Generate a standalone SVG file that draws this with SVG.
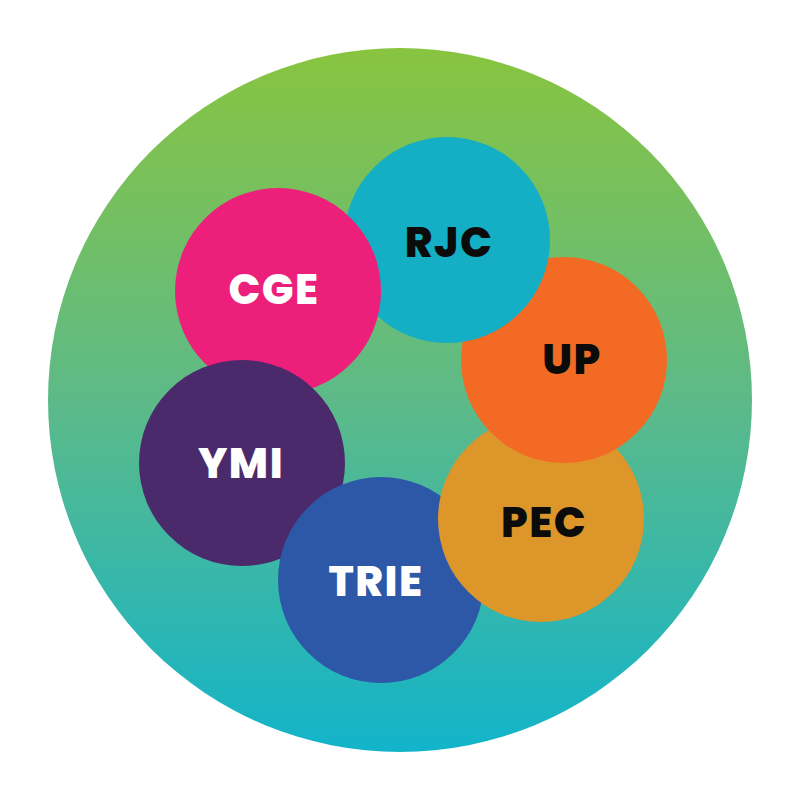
<svg xmlns="http://www.w3.org/2000/svg" width="800" height="800" viewBox="0 0 800 800">
<defs>
<linearGradient id="bg" x1="0" y1="0" x2="0" y2="1">
<stop offset="0" stop-color="#88C43F"/>
<stop offset="0.5" stop-color="#5DBA88"/>
<stop offset="1" stop-color="#12B4CA"/>
</linearGradient>
<clipPath id="trieClip"><circle cx="381" cy="580" r="104"/></clipPath>
</defs>
<style>
text{font-family:Poppins,Inter,"Liberation Sans",sans-serif;font-weight:800;font-size:42px;letter-spacing:1.5px;text-anchor:middle}
.w{fill:#FFFFFF}
.k{fill:#0B0B0B}
</style>
<rect width="800" height="800" fill="#FFFFFF"/>
<circle cx="400" cy="400" r="352" fill="url(#bg)"/>
<g id="PEC"><circle cx="541" cy="519" r="103" fill="#DC962A"/><text class="k" x="544" y="537">PEC</text></g>
<g id="UP"><circle cx="564" cy="360" r="103" fill="#F26A24"/><text class="k" x="572" y="374">UP</text></g>
<g id="RJC"><circle cx="447" cy="240" r="103" fill="#14AFC4"/><text class="k" x="449" y="257">RJC</text></g>
<g id="CGE"><circle cx="278" cy="291" r="103" fill="#EC1F7A"/><text class="w" x="274" y="304">CGE</text></g>
<g id="YMI"><circle cx="242" cy="463" r="103" fill="#4B2A6B"/><text class="w" x="241" y="478">YMI</text></g>
<g id="TRIE"><circle cx="381" cy="580" r="103" fill="#2D57A7"/><text class="w" x="376" y="596">TRIE</text></g>
<g id="PEC-over"><circle cx="541" cy="519" r="103" fill="#DC962A" clip-path="url(#trieClip)"/></g>
</svg>
